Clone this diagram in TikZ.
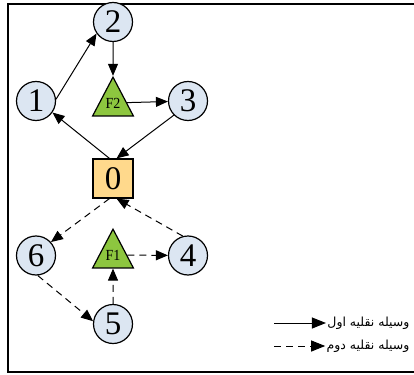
\documentclass[tikz,border=0pt]{standalone}
\usepackage{fontspec}
\setmainfont{Liberation Serif}
\newfontfamily\arabicfont[Script=Arabic]{DejaVu Sans}
\TeXXeTstate=1
\usetikzlibrary{arrows.meta,positioning,shapes.geometric}
\definecolor{custblue}{RGB}{220,230,242}
\definecolor{depotorange}{RGB}{255,217,140}
\definecolor{fuelgreen}{RGB}{141,198,63}

\begin{document}
\begin{tikzpicture}[x=1pt,y=1pt,on grid,line width=1pt,
    >={Triangle[length=12pt,width=10pt]},
    customer/.style={circle,draw,line width=1.2pt,fill=custblue,minimum size=39pt,inner sep=0pt,font=\fontsize{33}{33}\selectfont},
    depot/.style={rectangle,draw,line width=1.2pt,fill=depotorange,minimum width=40pt,minimum height=39pt,inner sep=0pt,font=\fontsize{33}{33}\selectfont},
    station/.style={regular polygon,regular polygon sides=3,draw,line width=1.2pt,fill=fuelgreen,minimum size=47pt,inner sep=0pt,yscale=1.1,transform shape,font=\fontsize{14}{14}\selectfont},
    second/.style={dash pattern=on 7pt off 5pt},
    legendtext/.style={font=\arabicfont\fontsize{12.5}{12.5}\selectfont,anchor=east,inner sep=1pt}]
   \useasboundingbox (0,0) rectangle (414,-374);
   \draw[line width=1.4pt] (8,-4) rectangle (420,-372);

   \node[depot] (0) at (113,-178.5) {0};
   \node[customer] (1) [above left=77.5 and 77 of 0] {1};
   \node[customer] (2) [above=156.5 of 0] {2};
   \node[customer] (3) [above right=77.5 and 75 of 0] {3};
   \node[station] (F2) [above=75.5 of 0] {F2};
   \node[customer] (6) [below left=77 and 77 of 0] {6};
   \node[customer] (4) [below right=77 and 75 of 0] {4};
   \node[station] (F1) [below=76.5 of 0] {F1};
   \node[customer] (5) [below=145.5 of 0] {5};

   \path[->]
    (1.5)   edge (2.215)
    (2)     edge (F2)
    (F2)    edge (3)
    (3.225) edge (0.80)
    (0.100) edge (1.-35)
    ;
   \path[->,second]
    (0.260) edge (6.42)
    (4.105) edge (0.280)
    (F1)    edge (4)
    (6.275) edge (5.172)
    (5)     edge (F1)
    ;

   % legend
   \node[legendtext] (first) at (411,-323) {\beginR وسیله نقلیه اول\endR};
   \node[legendtext] (second) at (411,-346) {\beginR وسیله نقلیه دوم\endR};
   \coordinate (firsttail) at (274,-323);
   \coordinate (secondtail) at (274,-346);
   \draw[->,>={Triangle[length=14pt,width=11pt]}] (firsttail) -- (first);
   \draw[->,second,>={Triangle[length=14pt,width=11pt]}] (secondtail) -- (second);
\end{tikzpicture}
\end{document}
